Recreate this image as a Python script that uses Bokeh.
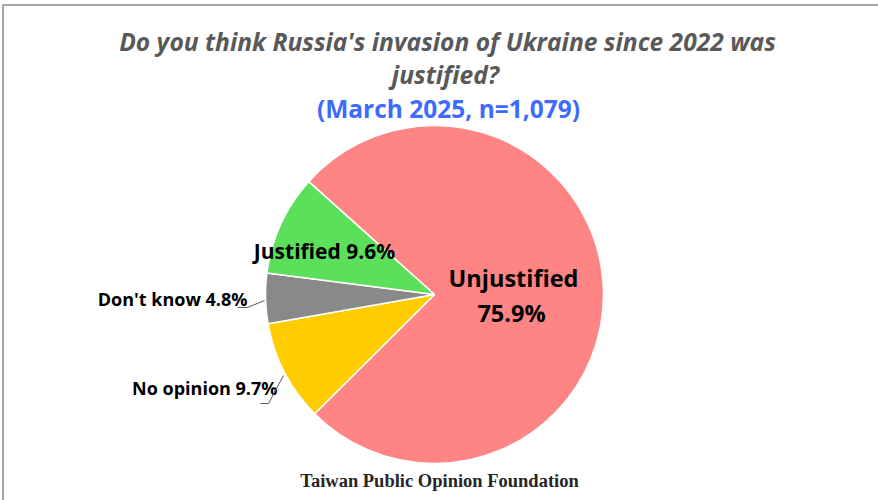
import math
from bokeh.plotting import figure
from bokeh.models import Range1d, ColumnDataSource
from bokeh.core.properties import value
from bokeh.embed import file_html
from bokeh.resources import INLINE

# ---- data ----
categories = ["Unjustified", "No opinion", "Don't know", "Justified"]
shares = [75.9, 9.7, 4.8, 9.6]
colors = ["#FF8585", "#FFCC00", "#898989", "#5CE05C"]

title_line1 = "Do you think Russia's invasion of Ukraine since 2022 was"
title_line2 = "justified?"
subtitle = "(March 2025, n=1,079)"
footer = "Taiwan Public Opinion Foundation"

W, H = 878, 500
def X(x):  # reference pixel -> data
    return x
def Y(y):
    return H - y

p = figure(width=W, height=H, output_backend="svg", toolbar_location=None,
           x_range=Range1d(0, W), y_range=Range1d(0, H), min_border=0)
p.axis.visible = False
p.grid.visible = False
p.outline_line_color = None
p.background_fill_color = "white"
p.border_fill_color = "white"

# chart-area border (top and left edges visible)
p.line(x=[X(2.5), X(2.5), X(878)], y=[Y(500), Y(4.5), Y(4.5)], line_color="#A6A6A6", line_width=2)

# pie, clockwise from start angle
a0 = math.radians(138.1)
total = sum(shares)
starts, ends = [], []
cum = 0.0
for s in shares:
    c0 = cum / total * 2 * math.pi
    cum += s
    c1 = cum / total * 2 * math.pi
    starts.append(a0 - c1)
    ends.append(a0 - c0)
src = ColumnDataSource(dict(start=starts, end=ends, color=colors, cat=categories))
cx, cy = X(434), Y(294)
p.wedge(x=cx, y=cy, radius=169, radius_units="screen", start_angle="start", end_angle="end",
        fill_color="color", line_color="white", line_width=1.5, source=src)

font = value("Open Sans")
def txt(x, y, t, size, style="bold", color="black", align="center", f=font):
    p.text(x=[X(x)], y=[Y(y)], text=[t], text_font=f, text_font_size=size,
           text_font_style=style, text_color=color, text_align=align, text_baseline="middle")

# titles
txt(447, 41, title_line1, "24.6px", "bold italic", "#595959")
txt(445, 74, title_line2, "24.6px", "bold italic", "#595959")
txt(448, 108, subtitle, "24.5px", "bold", "#3D6BFF")
txt(439, 480, footer, "18.5px", "bold", "#262626", f=value("Liberation Serif"))

lab = {c: f"{c} {v}%" for c, v in zip(categories, shares)}
# inside labels
txt(513, 277, categories[0], "23.5px")
txt(511, 312, f"{shares[0]}%", "23.5px")
txt(324, 250, lab["Justified"], "21px")
# outside labels
txt(247, 298, lab["Don't know"], "18px", align="right")
txt(277, 387, lab["No opinion"], "18px", align="right")
# leader lines
p.line(x=[X(237), X(247), X(264)], y=[Y(307), Y(307), Y(300)], line_color="#595959", line_width=1)
p.line(x=[X(260), X(268), X(283)], y=[Y(403), Y(403), Y(375)], line_color="#595959", line_width=1)

open("out.html", "w").write(file_html(p, INLINE))
